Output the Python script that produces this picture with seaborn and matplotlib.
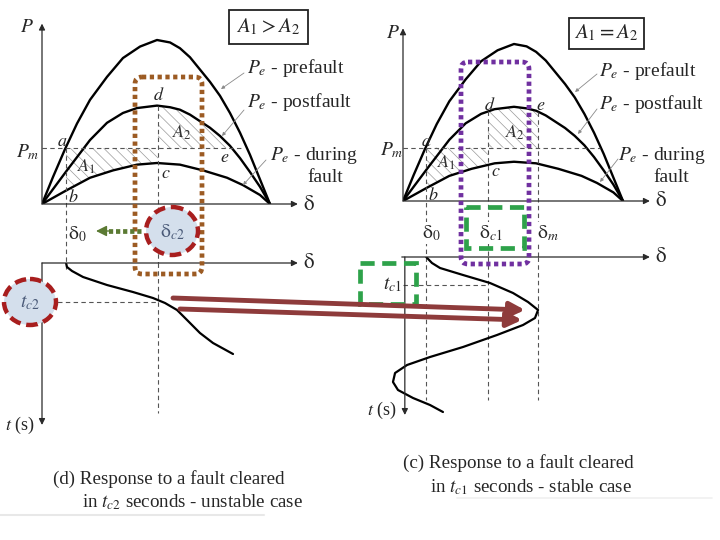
import numpy as np
import matplotlib
matplotlib.use("Agg")
import matplotlib.pyplot as plt
import seaborn as sns
from matplotlib.patches import FancyBboxPatch, Ellipse, Rectangle, FancyArrowPatch

sns.set_theme(style="white")
plt.rcParams["font.family"] = ["Liberation Serif", "DejaVu Serif"]
plt.rcParams["mathtext.fontset"] = "stix"
plt.rcParams["hatch.linewidth"] = 0.5
plt.rcParams["hatch.color"] = "#9a9a9a"

# ---------------- data (delta in degrees, P in per unit, t in seconds) ----------------
pre_delta = [0, 8.7, 18.2, 27.6, 37.9, 51.3, 63.9, 77.4, 90.8, 101.1, 108.9, 116.8,
             124.7, 132.6, 140.5, 148.4, 156.3, 164.2, 172.1, 180]
pre_p = [0, 0.33, 0.67, 0.98, 1.27, 1.55, 1.78, 1.92, 2.0, 1.97, 1.90, 1.79,
         1.64, 1.49, 1.32, 1.11, 0.87, 0.60, 0.30, 0]
post_delta = [0, 19.7, 37.9, 51.3, 63.9, 75.0, 90.8, 101.1, 108.9, 116.8, 124.7,
              132.6, 140.5, 148.4, 156.3, 164.2, 172.1, 180]
post_p = [0, 0.41, 0.78, 0.99, 1.11, 1.17, 1.20, 1.18, 1.15, 1.09, 1.01,
          0.93, 0.83, 0.71, 0.56, 0.39, 0.21, 0]
during_delta = [0, 19.7, 37.9, 56.1, 75.0, 90.8, 108.9, 127.1, 146.1, 158.7, 172.1, 180]
during_p = [0, 0.17, 0.32, 0.41, 0.48, 0.50, 0.48, 0.41, 0.32, 0.23, 0.11, 0]

p_m = 0.68
delta_0 = 19.0
delta_c2 = 91.6      # unstable case clearing angle
delta_e = 150.0
delta_c1 = 69.5      # stable case clearing angle
delta_m = 110.5
t_c2 = 0.39
t_c1 = 0.28

unstable_delta = [19.0, 19.7, 23.7, 32.4, 51.3, 71.8, 87.6, 97.1, 106.6, 114.5, 124.7, 135.0, 150.8]
unstable_t = [0.0, 0.04, 0.08, 0.14, 0.22, 0.29, 0.35, 0.40, 0.47, 0.57, 0.70, 0.80, 0.91]
stable_delta = [19.0, 23.7, 30.3, 49.1, 71.2, 90.0, 102.3, 110.5, 108.0, 98.2, 76.9, 49.1,
                22.1, 3.3, -6.5, -8.2, -4.1, 8.2, 22.1, 32.7]
stable_t = [0.0, 0.06, 0.11, 0.18, 0.26, 0.36, 0.45, 0.53, 0.61, 0.68, 0.78, 0.90,
            1.00, 1.08, 1.16, 1.25, 1.33, 1.41, 1.48, 1.55]

# ---------------- figure ----------------
W, H = 720, 540
fig = plt.figure(figsize=(7.2, 5.4), dpi=100)
fig.patch.set_facecolor("white")


def add_panel(x0, y0, sx, sy, xlim, ylim, down=False):
    left = x0 + xlim[0] * sx
    right = x0 + xlim[1] * sx
    if down:
        top = y0 + ylim[0] * sy
        bottom = y0 + ylim[1] * sy
    else:
        top = y0 - ylim[1] * sy
        bottom = y0 - ylim[0] * sy
    ax = fig.add_axes([left / W, 1 - bottom / H, (right - left) / W, (bottom - top) / H])
    ax.set_xlim(*xlim)
    ax.set_ylim((ylim[1], ylim[0]) if down else ylim)
    ax.set_axis_off()
    ax.patch.set_alpha(0)
    return ax


def axis_arrow(ax, start, end):
    ax.annotate("", xy=end, xytext=start,
                arrowprops=dict(arrowstyle="-|>", color="#2a2a2a", lw=0.9,
                                mutation_scale=9, shrinkA=0, shrinkB=0),
                annotation_clip=False)


DASH = dict(color="#555555", lw=0.8, ls=(0, (4, 3)), clip_on=False)


def draw_pa(ax, dc, d_end, pm_end, drop):
    for d, p in [(pre_delta, pre_p), (post_delta, post_p), (during_delta, during_p)]:
        sns.lineplot(x=d, y=p, ax=ax, color="black", lw=1.7, sort=False,
                     estimator=None, legend=False)
    axis_arrow(ax, (0, 0), (202, 0))
    axis_arrow(ax, (0, 0), (0, 2.2))
    ax.plot([0, pm_end], [p_m, p_m], **DASH)
    xs = np.linspace(delta_0, dc, 80)
    ax.fill_between(xs, np.interp(xs, during_delta, during_p), p_m,
                    facecolor="none", edgecolor="#9a9a9a", hatch="\\\\\\", lw=0)
    xs2 = np.linspace(dc, d_end, 80)
    ax.fill_between(xs2, p_m, np.interp(xs2, post_delta, post_p),
                    facecolor="none", edgecolor="#9a9a9a", hatch="\\\\\\", lw=0)
    ax.plot([delta_0, delta_0], [p_m, drop], **DASH)


# ----- left column (unstable case) -----
axL = add_panel(42, 204, 228 / 180, 82, (0, 202), (0, 2.2))
draw_pa(axL, delta_c2, delta_e, 157, -0.83)
axL.plot([delta_c2, delta_c2], [np.interp(delta_c2, post_delta, post_p), -0.72], **DASH)

axLb = add_panel(42, 263, 228 / 180, 100, (0, 202), (0, 1.62), down=True)
axis_arrow(axLb, (0, 0), (202, 0))
axis_arrow(axLb, (0, 0), (0, 1.62))
axLb.plot([delta_c2, delta_c2], [0, 1.5], **DASH)
axLb.plot([0, delta_c2], [t_c2, t_c2], **DASH)
sns.lineplot(x=unstable_delta, y=unstable_t, ax=axLb, color="black", lw=1.6,
             sort=False, estimator=None, legend=False)

# ----- right column (stable case) -----
axR = add_panel(403, 201, 220 / 180, 78.5, (0, 202), (0, 2.2))
draw_pa(axR, delta_c1, delta_m, 161, -0.71)
for d in (delta_c1, delta_m):
    axR.plot([d, d], [np.interp(d, post_delta, post_p), -0.71], **DASH)

axRb = add_panel(403, 257, 220 / 180, 100, (-14, 202), (0, 1.62), down=True)
axis_arrow(axRb, (-1.0, 0), (202, 0))
axis_arrow(axRb, (1.5, 0), (1.5, 1.58))
for d in (delta_0, delta_c1, delta_m):
    axRb.plot([d, d], [0, 1.43], **DASH)
axRb.plot([0, delta_c1], [t_c1, t_c1], **DASH)
sns.lineplot(x=stable_delta, y=stable_t, ax=axRb, color="black", lw=1.6,
             sort=False, estimator=None, legend=False)

# ---------------- overlay (annotations, pixel coordinates) ----------------
ov = fig.add_axes([0, 0, 1, 1])
ov.set_xlim(0, W)
ov.set_ylim(H, 0)
ov.set_axis_off()
ov.patch.set_alpha(0)


def T(x, y, s, size=13, ha="center", va="center", **kw):
    ov.text(x, y, s, fontsize=size, ha=ha, va=va, **kw)


def leader(x1, y1, x2, y2):
    ov.annotate("", xy=(x2, y2), xytext=(x1, y1),
                arrowprops=dict(arrowstyle="-|>", color="#8a8a8a", lw=0.6,
                                mutation_scale=5, shrinkA=0, shrinkB=0))


WB = dict(facecolor="white", edgecolor="none", pad=0.5)

# axis labels
for (x, y) in [(27, 28), (393, 33)]:
    T(x, y, "$P$", 14)
T(28, 152, "$P_m$", 14)
T(392, 150, "$P_m$", 14)
for (x, y) in [(309, 205), (309, 263), (661, 201), (661, 257)]:
    T(x, y, r"$\mathrm{\delta}$", 15)
T(20, 425, "$t$ (s)", 13)
T(382, 410, "$t$ (s)", 13)

# point labels
for (x, y, s) in [(62, 142, "a"), (73, 198, "b"), (166, 173, "c"), (159, 96, "d"), (225, 157, "e"),
                  (426, 142, "a"), (433, 196, "b"), (496, 172, "c"), (490, 105, "d"), (541, 105, "e")]:
    T(x, y, f"${s}$", 13)
T(87, 167, "$A_1$", 13, color="#333333")
T(182, 133, "$A_2$", 13, color="#333333")
T(447, 163, "$A_1$", 13, color="#333333")
T(515, 133, "$A_2$", 13, color="#333333")

# curve labels
T(247, 68, "$P_e$ - prefault", 14, ha="left")
T(247, 102, "$P_e$ - postfault", 14, ha="left")
T(270, 156, "$P_e$ - during", 14, ha="left")
T(307, 178, "fault", 14, ha="left")
leader(244, 73, 221, 89)
leader(244, 110, 222, 136)
leader(266, 160, 243, 185)
T(599, 71, "$P_e$ - prefault", 14, ha="left")
T(599, 104, "$P_e$ - postfault", 14, ha="left")
T(618, 155, "$P_e$ - during", 14, ha="left")
T(653, 177, "fault", 14, ha="left")
leader(597, 74, 575, 92)
leader(597, 109, 578, 134)
leader(618, 159, 600, 182)

# A1 vs A2 boxes
ov.add_patch(Rectangle((229, 10), 79, 34, fc="white", ec="#222222", lw=1.3))
T(268.5, 27, "$A_1 > A_2$", 15)
ov.add_patch(Rectangle((569, 18), 75, 31, fc="white", ec="#222222", lw=1.3))
T(606.5, 33, "$A_1 = A_2$", 15)

# delta labels
T(77, 234, r"$\mathrm{\delta}_0$", 14)
T(431, 233, r"$\mathrm{\delta}_0$", 14, bbox=WB)
T(491, 233, r"$\mathrm{\delta}_{c1}$", 14, bbox=WB)
T(548, 233, r"$\mathrm{\delta}_m$", 14, bbox=WB)
T(392, 285, "$t_{c1}$", 14, bbox=WB)

# highlight shapes
ov.add_patch(FancyBboxPatch((135, 77), 67, 197, boxstyle="round,pad=0,rounding_size=7",
                            fc="none", ec="#9C5B23", lw=3.4, ls=(0, (0.9, 0.75))))
ov.add_patch(FancyBboxPatch((461, 62), 68, 202, boxstyle="round,pad=0,rounding_size=7",
                            fc="none", ec="#7030A0", lw=3.4, ls=(0, (0.9, 0.75))))
ov.add_patch(Rectangle((466, 207), 58, 41, fc="none", ec="#2EA24A", lw=3.4, ls=(0, (3, 1.6))))
ov.add_patch(Rectangle((360, 263), 56, 41, fc="none", ec="#2EA24A", lw=3.4, ls=(0, (3, 1.6))))

ov.add_patch(Ellipse((172, 231), 52, 48, fc="#D4DFEC", ec="#A81E1E", lw=3.2, ls=(0, (2.6, 1.3))))
T(172, 232, r"$\mathrm{\delta}_{c2}$", 14, color="#4A5A78")
ov.add_patch(Ellipse((30, 302), 52, 46, fc="#D4DFEC", ec="#A81E1E", lw=3.2, ls=(0, (2.6, 1.3))))
T(30, 303, "$t_{c2}$", 14, color="#4A5A78")

# green dotted arrow (delta_c2 -> delta_0)
ov.plot([141, 108], [231, 231], color="#5B7A33", lw=3.4, ls=(0, (0.9, 0.6)))
ov.annotate("", xy=(96, 231), xytext=(110, 231),
            arrowprops=dict(arrowstyle="-|>", color="#5B7A33", lw=1, mutation_scale=16,
                            shrinkA=0, shrinkB=0))

# red arrows (t_c2 -> stable case)
for (x1, y1, x2, y2) in [(173, 298, 525, 310), (180, 309, 522, 320)]:
    ov.add_patch(FancyArrowPatch((x1, y1), (x2, y2), arrowstyle="-|>", mutation_scale=22,
                                 color="#8E3B3B", lw=3.5, shrinkA=0, shrinkB=0))

# captions
T(53, 479, "(d) Response to a fault cleared", 13.7, ha="left")
T(82, 502, "in $t_{c2}$ seconds - unstable case", 13.7, ha="left")
T(403, 463, "(c) Response to a fault cleared", 13.7, ha="left")
T(430, 487, "in $t_{c1}$ seconds - stable case", 13.7, ha="left")
ov.plot([0, 264], [515, 515], color="#e8e8e8", lw=1.5)
ov.plot([457, 712], [498, 498], color="#f0f0f0", lw=1.2)

fig.savefig("out.png", dpi=100, facecolor="white")
